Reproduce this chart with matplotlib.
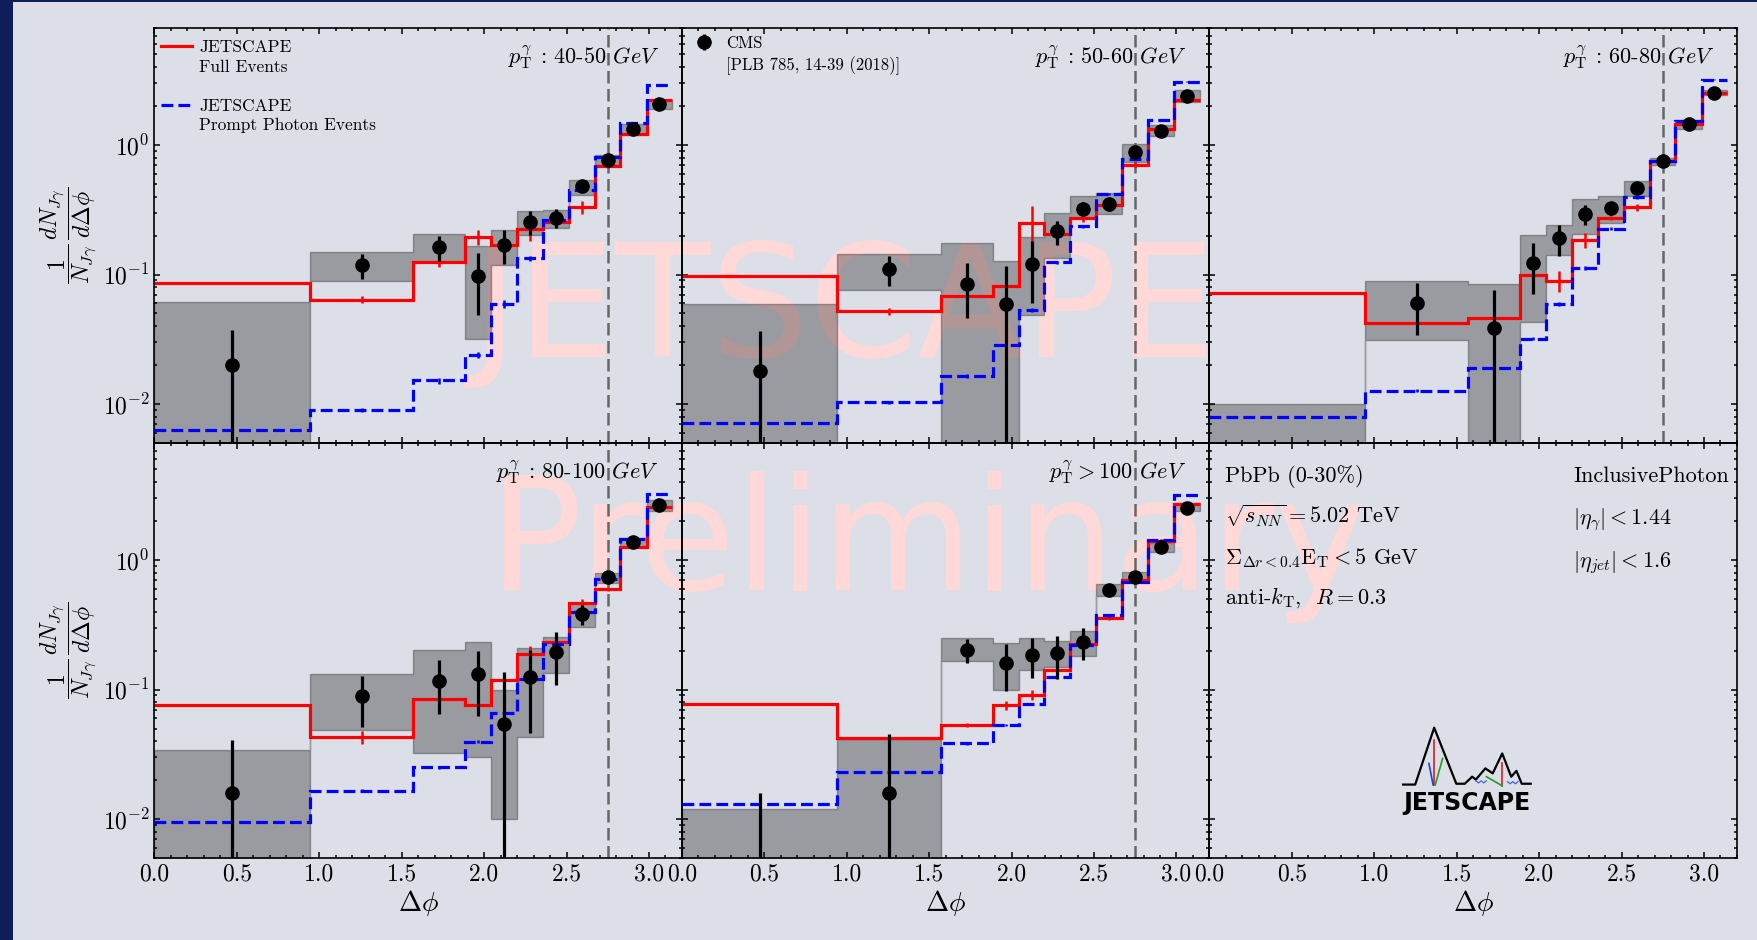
import numpy as np
import matplotlib
matplotlib.use("Agg")
import matplotlib.pyplot as plt
from matplotlib.lines import Line2D
from matplotlib.patches import Rectangle
from matplotlib.ticker import MultipleLocator, FormatStrFormatter

plt.rcParams['font.family'] = ['cmr10', 'DejaVu Serif']
plt.rcParams['mathtext.fontset'] = 'cm'
plt.rcParams['axes.formatter.use_mathtext'] = True

# Delta phi binning (CMS photon-jet)
edges = [0.0, 0.942, 1.571, 1.885, 2.042, 2.199, 2.356, 2.513, 2.670, 2.827, 2.985, 3.142]
centers = [0.471, 1.257, 1.728, 1.964, 2.121, 2.278, 2.435, 2.592, 2.749, 2.906, 3.063]
dphi_cut = 7 * np.pi / 8

pt_labels = [r'$p_{\mathrm{T}}^{\gamma}$ : 40-50 $GeV$',
             r'$p_{\mathrm{T}}^{\gamma}$ : 50-60 $GeV$',
             r'$p_{\mathrm{T}}^{\gamma}$ : 60-80 $GeV$',
             r'$p_{\mathrm{T}}^{\gamma}$ : 80-100 $GeV$',
             r'$p_{\mathrm{T}}^{\gamma} > 100$ $GeV$']

# CMS data: values, stat errors, systematic band
cms_40_50 = [0.020, 0.119, 0.163, 0.098, 0.170, 0.255, 0.275, 0.48, 0.77, 1.32, 2.06]
cms_err_40_50 = [0.017, 0.026, 0.035, 0.049, 0.050, 0.052, 0.048, 0.04, 0.04, 0.06, 0.08]
sys_lo_40_50 = [1e-4, 0.0896, 0.124, 0.0319, 0.118, 0.201, 0.229, 0.413, 0.705, 1.20, 1.91]
sys_hi_40_50 = [0.061, 0.149, 0.206, 0.165, 0.222, 0.307, 0.315, 0.540, 0.832, 1.46, 2.23]

cms_50_60 = [0.0181, 0.110, 0.0845, 0.0592, 0.120, 0.215, 0.321, 0.35, 0.88, 1.29, 2.40]
cms_err_50_60 = [0.0187, 0.028, 0.0385, 0.0563, 0.060, 0.045, 0.040, 0.04, 0.04, 0.05, 0.08]
sys_lo_50_60 = [1e-4, 0.0754, 1e-4, 1e-4, 0.049, 0.135, 0.272, 0.293, 0.739, 1.18, 2.15]
sys_hi_50_60 = [0.059, 0.145, 0.175, 0.128, 0.194, 0.297, 0.406, 0.426, 1.02, 1.42, 2.67]

cms_60_80 = [np.nan, 0.0603, 0.0386, 0.123, 0.190, 0.293, 0.326, 0.466, 0.748, 1.44, 2.52]
cms_err_60_80 = [0.0, 0.026, 0.037, 0.052, 0.052, 0.053, 0.040, 0.03, 0.03, 0.05, 0.07]
sys_lo_60_80 = [1e-4, 0.031, 1e-4, 0.043, 0.141, 0.206, 0.250, 0.401, 0.705, 1.34, 2.42]
sys_hi_60_80 = [0.0100, 0.0885, 0.0845, 0.203, 0.240, 0.385, 0.401, 0.524, 0.794, 1.57, 2.68]

cms_80_100 = [0.0160, 0.0896, 0.117, 0.131, 0.0541, 0.124, 0.194, 0.383, 0.743, 1.37, 2.66]
cms_err_80_100 = [0.0247, 0.038, 0.052, 0.069, 0.083, 0.078, 0.086, 0.07, 0.04, 0.05, 0.08]
sys_lo_80_100 = [1e-4, 0.0487, 0.0322, 0.0303, 0.0100, 0.0432, 0.135, 0.306, 0.660, 1.27, 2.40]
sys_hi_80_100 = [0.0341, 0.131, 0.202, 0.231, 0.099, 0.208, 0.253, 0.463, 0.789, 1.47, 2.91]

cms_100 = [0.003, 0.0160, 0.202, 0.161, 0.185, 0.190, 0.234, 0.587, 0.743, 1.25, 2.51]
cms_err_100 = [0.013, 0.0293, 0.043, 0.063, 0.063, 0.070, 0.066, 0.04, 0.03, 0.05, 0.07]
sys_lo_100 = [1e-4, 1e-4, 0.165, 0.100, 0.141, 0.150, 0.181, 0.527, 0.680, 1.16, 2.40]
sys_hi_100 = [0.0119, 0.0412, 0.251, 0.227, 0.248, 0.238, 0.285, 0.649, 0.813, 1.36, 2.74]

# JETSCAPE full events
full_40_50 = [0.0860, 0.0638, 0.125, 0.196, 0.170, 0.226, 0.255, 0.330, 0.684, 1.22, 2.23]
full_err_40_50 = [0.001, 0.004, 0.010, 0.026, 0.006, 0.045, 0.010, 0.038, 0.02, 0.03, 0.04]
full_50_60 = [0.0966, 0.0519, 0.0678, 0.081, 0.250, 0.206, 0.273, 0.346, 0.705, 1.33, 2.24]
full_err_50_60 = [0.001, 0.003, 0.004, 0.005, 0.090, 0.010, 0.020, 0.015, 0.03, 0.03, 0.04]
full_60_80 = [0.0720, 0.0422, 0.0461, 0.0997, 0.0896, 0.186, 0.273, 0.330, 0.748, 1.44, 2.52]
full_err_60_80 = [0.001, 0.002, 0.003, 0.004, 0.016, 0.025, 0.010, 0.020, 0.02, 0.03, 0.04]
full_80_100 = [0.0759, 0.0432, 0.084, 0.0759, 0.118, 0.187, 0.233, 0.469, 0.593, 1.27, 2.58]
full_err_80_100 = [0.001, 0.005, 0.004, 0.004, 0.005, 0.030, 0.010, 0.030, 0.02, 0.03, 0.04]
full_100 = [0.0773, 0.042, 0.0532, 0.0759, 0.0907, 0.141, 0.225, 0.355, 0.701, 1.39, 2.71]
full_err_100 = [0.001, 0.002, 0.002, 0.006, 0.008, 0.006, 0.010, 0.010, 0.02, 0.03, 0.04]

# JETSCAPE prompt photon events
prompt_40_50 = [0.00625, 0.00904, 0.0152, 0.024, 0.0592, 0.134, 0.265, 0.452, 0.808, 1.48, 2.92]
prompt_err_40_50 = [0.0002, 0.0003, 0.0008, 0.0012, 0.0045, 0.006, 0.008, 0.012, 0.015, 0.02, 0.03]
prompt_50_60 = [0.00713, 0.0103, 0.0165, 0.0284, 0.0535, 0.124, 0.235, 0.418, 0.78, 1.55, 3.07]
prompt_err_50_60 = [0.0002, 0.0003, 0.0006, 0.0010, 0.002, 0.004, 0.006, 0.010, 0.015, 0.02, 0.03]
prompt_60_80 = [0.00794, 0.0127, 0.019, 0.032, 0.0592, 0.112, 0.226, 0.394, 0.748, 1.52, 3.19]
prompt_err_60_80 = [0.0002, 0.0003, 0.0006, 0.0010, 0.002, 0.004, 0.006, 0.010, 0.015, 0.02, 0.03]
prompt_80_100 = [0.00942, 0.0166, 0.0251, 0.0395, 0.0655, 0.120, 0.224, 0.399, 0.709, 1.45, 3.23]
prompt_err_80_100 = [0.0002, 0.0004, 0.0006, 0.0010, 0.002, 0.004, 0.006, 0.010, 0.015, 0.02, 0.03]
prompt_100 = [0.0130, 0.0229, 0.0384, 0.0532, 0.0773, 0.126, 0.221, 0.376, 0.680, 1.43, 3.18]
prompt_err_100 = [0.0003, 0.0005, 0.0008, 0.0012, 0.002, 0.004, 0.006, 0.010, 0.015, 0.02, 0.03]

panels = [
    (cms_40_50, cms_err_40_50, sys_lo_40_50, sys_hi_40_50, full_40_50, full_err_40_50, prompt_40_50, prompt_err_40_50),
    (cms_50_60, cms_err_50_60, sys_lo_50_60, sys_hi_50_60, full_50_60, full_err_50_60, prompt_50_60, prompt_err_50_60),
    (cms_60_80, cms_err_60_80, sys_lo_60_80, sys_hi_60_80, full_60_80, full_err_60_80, prompt_60_80, prompt_err_60_80),
    (cms_80_100, cms_err_80_100, sys_lo_80_100, sys_hi_80_100, full_80_100, full_err_80_100, prompt_80_100, prompt_err_80_100),
    (cms_100, cms_err_100, sys_lo_100, sys_hi_100, full_100, full_err_100, prompt_100, prompt_err_100),
]

navy = '#0d1e58'
bg = '#dcdfe7'

fig, axes = plt.subplots(2, 3, sharex=True, sharey=True, figsize=(17.57, 9.40), dpi=100)
fig.subplots_adjust(left=0.0879, right=0.9886, top=0.9702, bottom=0.0872, wspace=0, hspace=0)
fig.patch.set_facecolor(navy)
fig.add_artist(Rectangle((13 / 1757, 0), 1 - 13 / 1757, 1 - 2 / 940, transform=fig.transFigure,
                         facecolor=bg, edgecolor='none', zorder=-2))

# watermark sits under the (transparent) axes
fig.text(0.480, 0.620, 'JETSCAPE', fontsize=112, family='DejaVu Sans', color='#ffd8d8',
         ha='center', va='baseline', zorder=-1)
fig.text(0.528, 0.372, 'Preliminary', fontsize=112, family='DejaVu Sans', color='#ffd8d8',
         ha='center', va='baseline', zorder=-1)

for ax in axes.flat:
    ax.set_facecolor('none')
    ax.set_yscale('log')
    ax.set_xlim(0, 3.2)
    ax.set_ylim(0.005, 8)
    ax.xaxis.set_major_locator(MultipleLocator(0.5))
    ax.xaxis.set_minor_locator(MultipleLocator(0.1))
    ax.xaxis.set_major_formatter(FormatStrFormatter('%.1f'))
    ax.tick_params(which='both', direction='in', top=True, right=True, width=1.1, labelsize=17, color='k')
    ax.tick_params(which='major', length=4.5)
    ax.tick_params(which='minor', length=2.4)
    for s in ax.spines.values():
        s.set_linewidth(1.2)

cms_handles = []
for ax, label, (val, err, lo, hi, full, full_err, prompt, prompt_err) in zip(axes.flat, pt_labels, panels):
    ax.fill_between(edges, lo + lo[-1:], hi + hi[-1:], step='post', color='k', alpha=0.3, lw=1, zorder=1)
    ax.axvline(dphi_cut, color='0.4', lw=1.8, ls=(0, (5, 2.2)), zorder=1.5)
    ax.stairs(full, edges, baseline=None, color='red', lw=2.3, zorder=2)
    ax.errorbar(centers, full, yerr=full_err, fmt='none', ecolor='red', elinewidth=1.8, zorder=2)
    ax.stairs(prompt, edges, baseline=None, color='blue', lw=2.3, ls='--', zorder=3)
    ax.errorbar(centers, prompt, yerr=prompt_err, fmt='none', ecolor='blue', elinewidth=1.8, zorder=3)
    eb = ax.errorbar(centers, val, yerr=err, fmt='o', color='k', ms=9.5, elinewidth=2.3, capsize=0, zorder=5)
    cms_handles.append(eb)
    ax.text(0.957, 0.915, label, transform=ax.transAxes, ha='right', va='baseline', fontsize=16)

# legends: handle sits next to the first line of each two-line entry
blank = Line2D([], [], linestyle='none')
red_handle = Line2D([], [], color='red', lw=2.3)
blue_handle = Line2D([], [], color='blue', lw=2.3, ls='--')
axes[0, 0].legend([red_handle, blank, blank, blue_handle, blank],
                  ['JETSCAPE', 'Full Events', '', 'JETSCAPE', 'Prompt Photon Events'],
                  loc='upper left', bbox_to_anchor=(0.012, 0.971), frameon=False, fontsize=12.5,
                  handlelength=1.8, handletextpad=0.4, labelspacing=0.24, borderpad=0, borderaxespad=0)
axes[0, 1].legend([cms_handles[1], blank], ['CMS', '[PLB 785, 14-39 (2018)]'],
                  loc='upper left', bbox_to_anchor=(0.026, 0.982), frameon=False, fontsize=12,
                  handlelength=1.0, handletextpad=0.84, labelspacing=0.31, borderpad=0, borderaxespad=0)

# info panel
info = axes[1, 2]
left_lines = ['PbPb (0-30%)', r'$\sqrt{s_{NN}} = 5.02$ TeV',
              r'$\Sigma_{\Delta r<0.4}\mathrm{E}_{\mathrm{T}} < 5$ GeV', r'anti-$k_{\mathrm{T}}$,  $R = 0.3$']
for txt, y in zip(left_lines, [0.906, 0.806, 0.708, 0.614]):
    info.text(0.030, y, txt, transform=info.transAxes, ha='left', va='baseline', fontsize=16)
right_lines = ['InclusivePhoton', r'$|\eta_{\gamma}| < 1.44$', r'$|\eta_{jet}| < 1.6$']
for txt, y in zip(right_lines, [0.906, 0.806, 0.701]):
    info.text(0.689, y, txt, transform=info.transAxes, ha='left', va='baseline', fontsize=16)

# JETSCAPE logo
tr = info.transAxes
info.plot([0.367, 0.390, 0.426, 0.468, 0.484, 0.498, 0.505, 0.523, 0.537, 0.555, 0.572, 0.582, 0.592, 0.609],
          [0.177, 0.177, 0.314, 0.179, 0.179, 0.196, 0.189, 0.216, 0.204, 0.252, 0.196, 0.210, 0.179, 0.179],
          color='k', lw=1.6, transform=tr, clip_on=False)
info.plot([0.426, 0.426], [0.284, 0.176], color='#d62020', lw=1.2, transform=tr)
info.plot([0.416, 0.424], [0.228, 0.176], color='#2040e0', lw=1.2, transform=tr)
info.plot([0.442, 0.428], [0.240, 0.176], color='#20a020', lw=1.2, transform=tr)
info.plot([0.555, 0.555], [0.228, 0.174], color='#d62020', lw=1.2, transform=tr)
info.plot([0.525, 0.555], [0.196, 0.174], color='#20a020', lw=1.2, transform=tr)
info.plot([0.505, 0.510, 0.515, 0.520, 0.525], [0.186, 0.181, 0.186, 0.181, 0.186], color='#4060f0', lw=0.9, transform=tr)
info.plot([0.565, 0.570, 0.575, 0.580, 0.585], [0.184, 0.179, 0.184, 0.179, 0.184], color='#4060f0', lw=0.9, transform=tr)
info.text(0.488, 0.132, 'JETSCAPE', transform=tr, ha='center', va='center', fontsize=17,
          family='DejaVu Sans', fontweight='bold')

for ax in axes[1]:
    ax.set_xlabel(r'$\Delta\phi$', fontsize=20, labelpad=2)

ylab = r'$\dfrac{1}{N_{J\gamma}}\,\dfrac{dN_{J\gamma}}{d\Delta\phi}$'
fig.text(0.0387, 0.7497, ylab, rotation=90, ha='center', va='center', fontsize=17)
fig.text(0.0387, 0.3085, ylab, rotation=90, ha='center', va='center', fontsize=17)

fig.savefig('out.png', dpi=100, facecolor=fig.get_facecolor())
